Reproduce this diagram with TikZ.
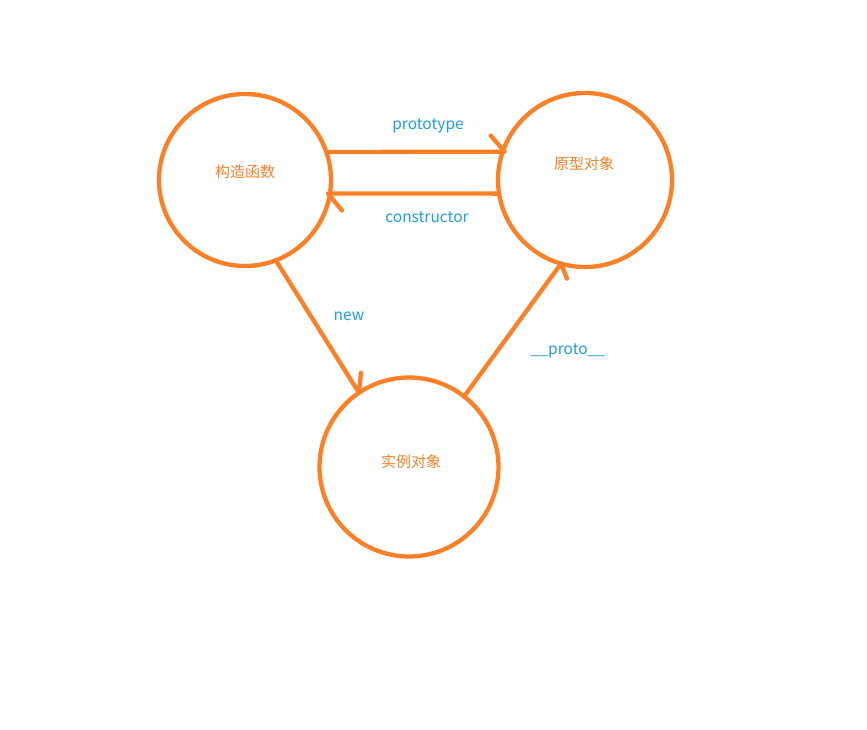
\documentclass[tikz,border=0pt]{standalone}
\usepackage{fontspec}
\setmainfont{Noto Sans CJK SC}
\newfontfamily\cjkfont{Noto Sans CJK SC}
\definecolor{porange}{HTML}{FF7F27}
\definecolor{pblue}{HTML}{1E9FE6}
\begin{document}
\begin{tikzpicture}[x=1pt,y=-1pt,
  ring/.style={circle,draw=porange,line width=4.3pt,outer sep=0pt,inner sep=0pt},
  link/.style={draw=porange,line width=4.3pt,line cap=round,line join=round},
  cjklabel/.style={text=porange,font=\cjkfont\fontsize{15}{15}\selectfont,inner sep=0pt},
  arrlabel/.style={text=pblue,font=\fontsize{15.5}{16}\selectfont,inner sep=0pt}]
\useasboundingbox (0,0) rectangle (867,730);
\fill[white] (0,0) rectangle (867,730);
\node[ring,minimum size=172pt] (A) at (245,180) {};
\node[ring,minimum size=174pt] (B) at (585,180) {};
\node[ring,minimum size=179pt] (C) at (409,467) {};
\node[cjklabel] (ta) at (245,172) {构造函数};
\node[cjklabel] (tb) at (584,164) {原型对象};
\node[cjklabel] (tc) at (411,462) {实例对象};
\node[arrlabel] (lp) at (428,126) {prototype};
\node[arrlabel] (lc) at (427,217) {constructor};
\node[arrlabel] (ln) at (349,316) {new};
\node[arrlabel] (lq) at (568,351) {\_\_proto\_\_};
% prototype
\path[link] (A.19) -- ([xshift=2pt]B.161) -- ++(-14,-16);
% constructor
\path[link] (B.189) -- ([xshift=-2pt]A.-9) -- ++(14,17);
% new
\path[link] (A.-69) -- (C.124) -- ++(2,-20);
% __proto__
\path[link] (C.52) -- (B.-106) -- ++(6,15);
\end{tikzpicture}
\end{document}
